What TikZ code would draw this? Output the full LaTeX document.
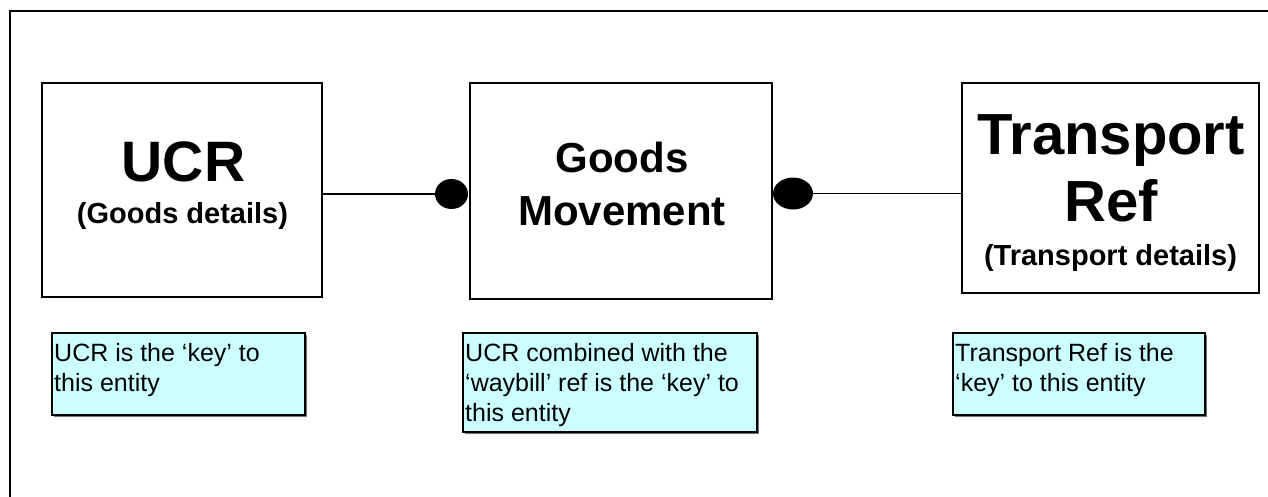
\documentclass[tikz,border=0pt]{standalone}
\usepackage{fontspec}
\setmainfont{Liberation Sans}
\definecolor{notecyan}{RGB}{204,255,255}
\tikzset{
  entity/.style={draw=black, line width=1.8pt, fill=white, inner sep=0pt},
  notebox/.style={draw=black, line width=1.4pt, fill=notecyan, inner sep=0pt},
  noteshadow/.style={fill=black!55, draw=none, inner sep=0pt},
  dotend/.style={ellipse, fill=black, draw=none, inner sep=0pt},
  conn/.style={draw=black, line width=1.8pt},
  bigtxt/.style={font=\bfseries\fontsize{57}{60}\selectfont, inner sep=0pt, anchor=base},
  midtxt/.style={font=\bfseries\fontsize{42}{48}\selectfont, inner sep=0pt, anchor=base},
  subtxt/.style={font=\bfseries\fontsize{29}{33}\selectfont, inner sep=0pt, anchor=base},
  notetxt/.style={font=\fontsize{25}{30}\selectfont, inner sep=0pt, anchor=base west},
}
\usetikzlibrary{shapes.geometric}
\begin{document}
\begin{tikzpicture}[x=1pt,y=-1pt]
\useasboundingbox (0,0) rectangle (1268,497);
\clip (0,0) rectangle (1268,497);
% outer frame
\draw[line width=2pt] (10,11) rectangle (1300,530);
% entity boxes
\node[entity, minimum width=280pt, minimum height=214pt] (ucr) at (182,190) {};
\node[entity, minimum width=302pt, minimum height=216pt] (gm) at (621,191) {};
\node[entity, minimum width=297pt, minimum height=210pt] (tr) at (1110.5,188) {};
% entity texts
\node[bigtxt] (ucrt) at (183.5,182) {UCR};
\node[subtxt] (ucrs) at (182.5,223) {(Goods details)};
\node[midtxt] (gmt1) at (622,173) {Goods};
\node[midtxt] (gmt2) at (622,225) {Movement};
\node[bigtxt, font=\bfseries\fontsize{58}{60}\selectfont] (trt1) at (1111,155) {Transport};
\node[bigtxt, font=\bfseries\fontsize{58}{60}\selectfont] (trt2) at (1111,222) {Ref};
\node[subtxt] (trs) at (1110.5,265) {(Transport details)};
% connector end dots
\node[dotend, minimum width=33pt, minimum height=30pt] (dot1) at (451.5,194) {};
\node[dotend, minimum width=40pt, minimum height=32pt] (dot2) at (793,193.5) {};
% connectors
\draw[conn] (ucr.east |- dot1.center) -- (dot1.west);
\draw[conn] (dot2.east) -- (tr.west |- dot2.center);
% notes (shadows)
\node[noteshadow, minimum width=253pt, minimum height=82pt] (nas) at (180,375.5) {};
\node[noteshadow, minimum width=294pt, minimum height=99pt] (nbs) at (611.5,384) {};
\node[noteshadow, minimum width=252pt, minimum height=82pt] (ncs) at (1080.5,375.5) {};
\node[notebox, minimum width=253pt, minimum height=82pt] (na) at (178.5,374) {};
\node[notebox, minimum width=294pt, minimum height=99pt] (nb) at (610,382.5) {};
\node[notebox, minimum width=252pt, minimum height=82pt] (nc) at (1079,374) {};
% note texts
\node[notetxt] (na1) at (54,361) {UCR is the ‘key’ to};
\node[notetxt] (na2) at (54,391) {this entity};
\node[notetxt] (nb1) at (465,361) {UCR combined with the};
\node[notetxt] (nb2) at (465,391) {‘waybill’ ref is the ‘key’ to};
\node[notetxt] (nb3) at (465,421) {this entity};
\node[notetxt] (nc1) at (955,361) {Transport Ref is the};
\node[notetxt] (nc2) at (955,391) {‘key’ to this entity};
\end{tikzpicture}
\end{document}
